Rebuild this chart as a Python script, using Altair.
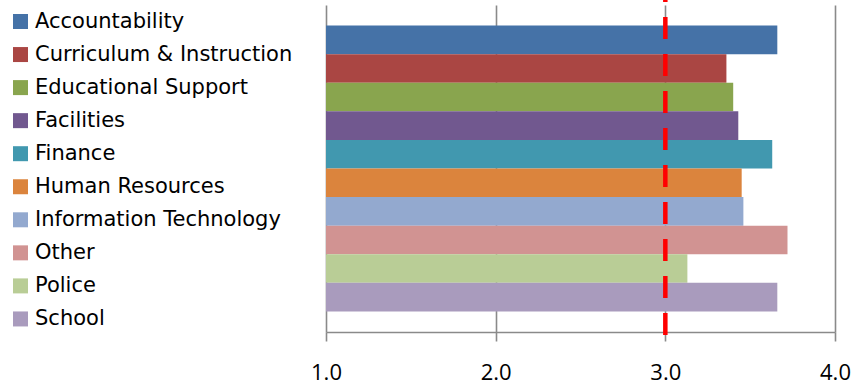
import altair as alt
import pandas as pd

categories = ["Accountability", "Curriculum & Instruction", "Educational Support",
              "Facilities", "Finance", "Human Resources", "Information Technology",
              "Other", "Police", "School"]
values = [3.66, 3.36, 3.40, 3.43, 3.63, 3.45, 3.46, 3.72, 3.13, 3.66]
colors = ["#4572A7", "#AA4643", "#89A54E", "#71588F", "#4198AF",
          "#DB843D", "#93A9CF", "#D19392", "#B9CD96", "#A99BBD"]
x_ticks = [1, 2, 3, 4]
target = 3.0

df = pd.DataFrame({"category": categories, "value": values, "start": [1.0] * len(values)})

FONT = "Open Sans"
LEGEND_FONT = "DejaVu Sans"
GRAY = "#8a8a8a"

xscale = alt.Scale(domain=[1, 4], zero=False, nice=False)

bars = alt.Chart(df).mark_bar(opacity=1).encode(
    y=alt.Y("category:N", sort=categories, axis=None,
            scale=alt.Scale(paddingInner=0, paddingOuter=0.72)),
    x=alt.X("value:Q", scale=xscale,
            axis=alt.Axis(values=x_ticks, format=".1f", title=None, grid=True,
                          gridColor=GRAY, gridWidth=1.6, domainColor=GRAY, domainWidth=1.6,
                          tickColor=GRAY, tickWidth=1.6, tickSize=9,
                          labelFont=FONT, labelFontSize=22, labelColor="#000000",
                          labelFlush=False, labelOverlap=False,
                          labelPadding=21)),
    x2="start:Q",
    color=alt.Color("category:N", sort=categories,
                    scale=alt.Scale(domain=categories, range=colors),
                    legend=alt.Legend(title=None, orient="none", legendX=-316, legendY=6,
                                      symbolType="square", symbolSize=225,
                                      symbolStrokeWidth=0, symbolOpacity=1,
                                      labelFont=LEGEND_FONT, labelFontSize=21,
                                      labelColor="#000000",
                                      labelOffset=4, rowPadding=11.05, padding=0,
                                      labelLimit=400)),
)

rule = alt.Chart(pd.DataFrame({"t": [target]})).mark_rule(
    color="#FF0000", strokeWidth=4.5, strokeDash=[22, 15], strokeDashOffset=20
).encode(
    x=alt.X("t:Q", scale=xscale),
    y=alt.value(-5),
    y2=alt.value(335),
)

chart = alt.layer(bars, rule).properties(
    width=509, height=327,
    padding={"left": 326, "top": 5, "right": 17, "bottom": 58},
    autosize="none",
).configure_view(stroke=None)

chart.save("out.html", embed_options={"renderer": "svg", "actions": False})
